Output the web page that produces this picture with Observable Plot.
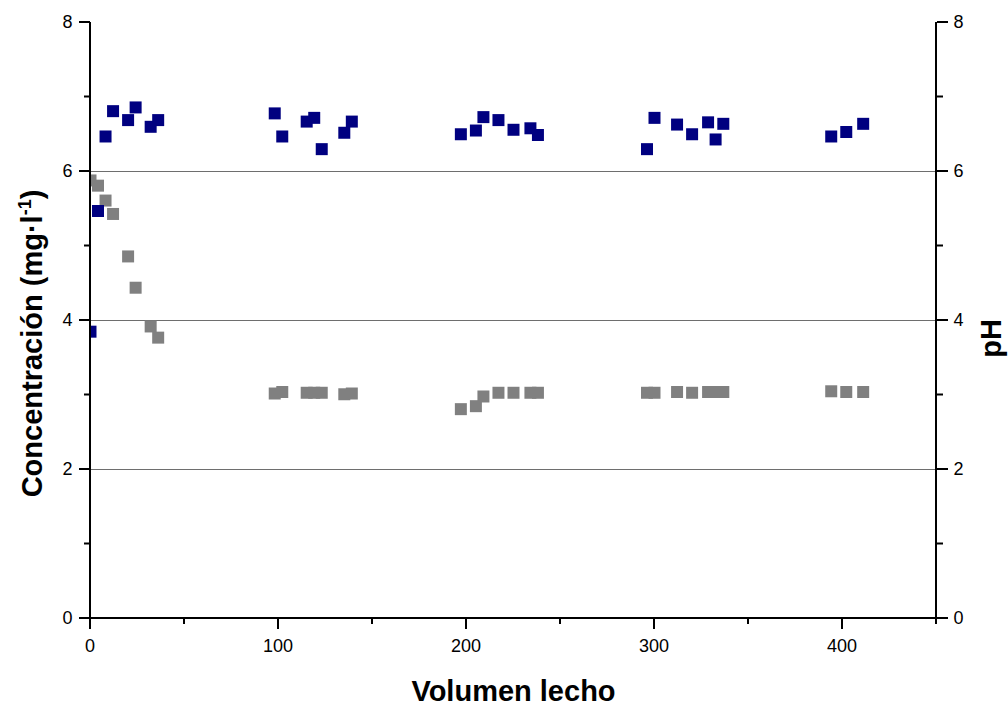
<!DOCTYPE html>
<html>
<head>
<meta charset="utf-8">
<script src="https://cdn.jsdelivr.net/npm/d3@7"></script>
<script src="https://cdn.jsdelivr.net/npm/@observablehq/plot@0.6"></script>
<style>
  html, body { margin: 0; padding: 0; background: #fff; }
  #chart svg { display: block; }
</style>
</head>
<body>
<div id="chart"></div>
<script>
// Bed volumes passed through the column
const volumes = [0, 4, 8, 12, 20, 24, 32, 36,
                 98, 102, 115, 119, 123, 135, 139,
                 197, 205, 209, 217, 225, 234, 238,
                 296, 300, 312, 320, 328.5, 332.5, 336.6,
                 394, 402, 411];

// Effluent concentration (mg·l-1), grey series, left axis
const concentration = [5.88, 5.81, 5.61, 5.43, 4.86, 4.44, 3.92, 3.77,
                       3.02, 3.04, 3.03, 3.03, 3.03, 3.01, 3.02,
                       2.81, 2.85, 2.98, 3.03, 3.03, 3.03, 3.03,
                       3.03, 3.03, 3.04, 3.03, 3.04, 3.04, 3.04,
                       3.05, 3.04, 3.04];

// Effluent pH, navy series, right axis
const ph = [3.85, 5.47, 6.47, 6.81, 6.69, 6.86, 6.60, 6.69,
            6.78, 6.47, 6.67, 6.72, 6.30, 6.52, 6.67,
            6.50, 6.55, 6.73, 6.69, 6.56, 6.58, 6.49,
            6.30, 6.72, 6.63, 6.50, 6.66, 6.43, 6.64,
            6.47, 6.53, 6.64];

// Axis ticks and titles
const xMajor = [0, 100, 200, 300, 400];
const xMinor = [50, 150, 250, 350, 450];
const yMajor = [0, 2, 4, 6, 8];
const yMinor = [1, 3, 5, 7];
const gridLevels = [2, 4, 6];
const xTitle = "Volumen lecho";
const yTitleMain = "Concentración (mg·l";
const yTitleSup = "-1";
const yTitleEnd = ")";
const y2Title = "pH";

const rows = volumes.map((v, i) => ({v, conc: concentration[i], ph: ph[i]}));

const font = "'Liberation Sans', Arial, sans-serif";
const side = 12;                       // square marker side in px
const r = side / Math.sqrt(Math.PI);   // Plot sizes symbols by area π·r²
const axisW = 2;                       // heavy axis lines and ticks

const chart = Plot.plot({
  width: 1008,
  height: 705,
  marginLeft: 90,
  marginRight: 72,
  marginTop: 22,
  marginBottom: 87,
  style: {fontFamily: font, background: "#fff", color: "#000"},
  x: {domain: [0, 450], label: null},
  y: {domain: [0, 8], label: null},
  marks: [
    Plot.ruleY(gridLevels, {stroke: "#6e6e6e", strokeWidth: 1}),
    Plot.dot(rows, {x: "v", y: "conc", symbol: "square", r, fill: "#808080", clip: true}),
    Plot.dot(rows, {x: "v", y: "ph", symbol: "square", r, fill: "#000080", clip: true}),

    // frame lines: left, right and bottom
    Plot.ruleX([0, 450], {strokeWidth: axisW, dx: -0.5}),
    Plot.ruleY([0], {strokeWidth: axisW, dy: -0.5}),

    // bottom axis
    Plot.axisX({ticks: xMajor, tickSize: 11, tickPadding: 10, fontSize: 18, strokeWidth: axisW, dx: -0.5, label: null}),
    Plot.axisX({ticks: xMinor, tickSize: 6, tickFormat: () => "", strokeWidth: axisW, dx: -0.5, label: null}),

    // left axis
    Plot.axisY({ticks: yMajor, tickSize: 11, tickPadding: 7, fontSize: 18, strokeWidth: axisW, dy: -0.5, label: null}),
    Plot.axisY({ticks: yMinor, tickSize: 6, tickFormat: () => "", strokeWidth: axisW, dy: -0.5, label: null}),

    // right axis (pH)
    Plot.axisY({anchor: "right", ticks: yMajor, tickSize: 11, tickPadding: 6, fontSize: 18, strokeWidth: axisW, dy: -0.5, label: null}),
    Plot.axisY({anchor: "right", ticks: yMinor, tickSize: 6, tickFormat: () => "", strokeWidth: axisW, dy: -0.5, label: null}),

    // axis titles
    Plot.text([xTitle], {text: d => d, frameAnchor: "bottom", dy: 82, lineAnchor: "bottom",
      fontSize: 29, fontWeight: "bold"}),
    Plot.text([yTitleMain + yTitleSup + yTitleEnd], {text: d => d, frameAnchor: "left", rotate: -90,
      dx: -49, dy: 23, lineAnchor: "bottom", textAnchor: "middle", fontSize: 29, fontWeight: "bold"}),
    Plot.text([y2Title], {text: d => d, frameAnchor: "right", rotate: -90,
      dx: 64, dy: 18, lineAnchor: "bottom", textAnchor: "middle", fontSize: 29, fontWeight: "bold"})
  ]
});

// Make sure axis ticks are drawn heavy, like the frame lines
d3.select(chart).selectAll('g[aria-label$="axis tick"]')
  .attr("stroke-width", axisW)
  .attr("stroke", "#000");

// Set the "-1" of the concentration unit as a superscript
d3.select(chart).selectAll("text")
  .filter(function() { return this.textContent === yTitleMain + yTitleSup + yTitleEnd; })
  .each(function() {
    const t = d3.select(this);
    t.text(null);
    t.append("tspan").text(yTitleMain);
    t.append("tspan").attr("font-size", 18).attr("dy", -11).text(yTitleSup);
    t.append("tspan").attr("dy", 11).text(yTitleEnd);
  });

document.getElementById("chart").appendChild(chart);
</script>
</body>
</html>
